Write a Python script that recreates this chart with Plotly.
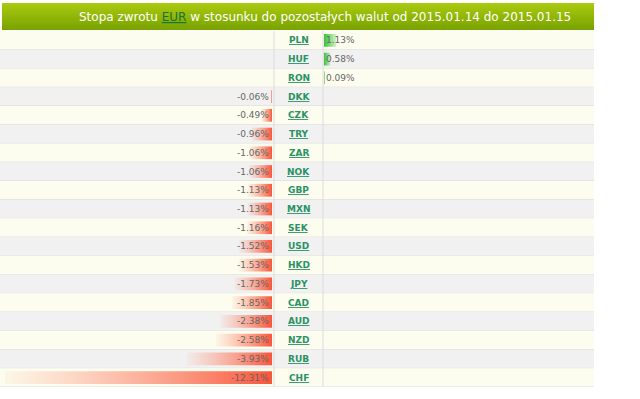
import plotly.graph_objects as go

# ---- data ----
currencies = ["PLN", "HUF", "RON", "DKK", "CZK", "TRY", "ZAR", "NOK", "GBP", "MXN",
              "SEK", "USD", "HKD", "JPY", "CAD", "AUD", "NZD", "RUB", "CHF"]
returns = [1.13, 0.58, 0.09, -0.06, -0.49, -0.96, -1.06, -1.06, -1.13, -1.13,
           -1.16, -1.52, -1.53, -1.73, -1.85, -2.38, -2.58, -3.93, -12.31]
title_before = "Stopa zwrotu "
base_currency = "EUR"
title_after = " w stosunku do pozostałych walut od 2015.01.14 do 2015.01.15"

W, H = 640, 399
def px(x):
    return x / W
def py(y):
    return 1 - y / H

FONT = "DejaVu Sans, Verdana, sans-serif"
n = len(currencies)
half = 0.34

fig = go.Figure()

# row backgrounds and separators
shapes = []
for i in range(n):
    shapes.append(dict(type="rect", xref="paper", yref="y", x0=0, x1=px(594),
                       y0=i - 0.5, y1=i + 0.5, layer="below", line_width=0,
                       fillcolor="#fcfdef" if i % 2 == 0 else "#f1f1f1"))
    shapes.append(dict(type="line", xref="paper", yref="y", x0=0, x1=px(594),
                       y0=i + 0.5, y1=i + 0.5, layer="below",
                       line=dict(color="#dcdcdc", width=1)))
for xv in (274, 323):
    shapes.append(dict(type="line", xref="paper", yref="y", x0=px(xv), x1=px(xv),
                       y0=-0.5, y1=n - 0.5, layer="below",
                       line=dict(color="#dcdcdc", width=1)))

# header gradient band
fig.add_trace(go.Scatter(x=[0, 1, 1, 0, 0], y=[0, 0, 1, 1, 0], xaxis="x3", yaxis="y3",
                         mode="lines", line=dict(width=0), fill="toself",
                         fillgradient=dict(type="vertical",
                                           colorscale=[[0, "#78a200"], [1, "#abcb10"]]),
                         hoverinfo="skip", showlegend=False))

annotations = []
for i, (c, v) in enumerate(zip(currencies, returns)):
    if v < 0:
        fig.add_trace(go.Scatter(
            x=[v, 0, 0, v, v], y=[i - half, i - half, i + half, i + half, i - half],
            xaxis="x", yaxis="y", mode="lines", line=dict(width=0), fill="toself",
            fillgradient=dict(type="horizontal", start=v, stop=0,
                              colorscale=[[0, "rgba(255,140,110,0.06)"],
                                          [1, "rgba(250,85,58,1)"]]),
            hoverinfo="skip", showlegend=False))
        annotations.append(dict(xref="x", yref="y", x=0, y=i, xanchor="right",
                                yanchor="middle", showarrow=False, xshift=-1,
                                text=f"{v:.2f}%",
                                font=dict(family=FONT, size=9, color="#666666")))
    else:
        fig.add_trace(go.Scatter(
            x=[0, v, v, 0, 0], y=[i - half, i - half, i + half, i + half, i - half],
            xaxis="x2", yaxis="y", mode="lines", line=dict(width=0), fill="toself",
            fillgradient=dict(type="horizontal", start=0, stop=v,
                              colorscale=[[0, "rgba(55,195,55,1)"],
                                          [1, "rgba(55,195,55,0.2)"]]),
            hoverinfo="skip", showlegend=False))
        annotations.append(dict(xref="x2", yref="y", x=0, y=i, xanchor="left",
                                yanchor="middle", showarrow=False, xshift=0,
                                text=f"{v:.2f}%",
                                font=dict(family=FONT, size=9, color="#666666")))
    annotations.append(dict(xref="paper", yref="y", x=px(298.5), y=i, xanchor="center",
                            yanchor="middle", showarrow=False,
                            text=f"<u><b>{c}</b></u>",
                            font=dict(family=FONT, size=9, color="#2a9264")))

annotations.append(dict(xref="paper", yref="paper", x=px(325), y=py(17),
                        xanchor="center", yanchor="middle", showarrow=False,
                        text=f"{title_before}<span style='color:#17743a'><u>{base_currency}</u></span>{title_after}",
                        font=dict(family=FONT, size=12, color="#ffffff")))

hidden = dict(visible=False, showgrid=False, zeroline=False, fixedrange=True)
fig.update_layout(
    width=W, height=H, margin=dict(l=0, r=0, t=0, b=0),
    paper_bgcolor="#ffffff", plot_bgcolor="rgba(0,0,0,0)",
    showlegend=False,
    xaxis=dict(domain=[0, px(272)], range=[-272 / 21.69, 0], anchor="y", **hidden),
    xaxis2=dict(domain=[px(324), px(594)], range=[0, 25], anchor="y", **hidden),
    yaxis=dict(domain=[py(387), py(31)], range=[n - 0.5, -0.5], anchor="x", **hidden),
    xaxis3=dict(domain=[px(2), px(594)], range=[0, 1], anchor="y3", **hidden),
    yaxis3=dict(domain=[py(30), py(3)], range=[0, 1], anchor="x3", **hidden),
    shapes=shapes, annotations=annotations,
)

fig.write_html("out.html", config={"displayModeBar": False})
